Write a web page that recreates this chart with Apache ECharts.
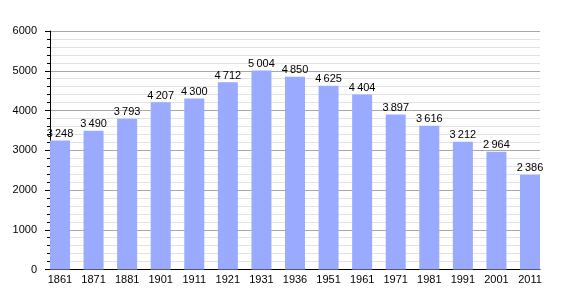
<!DOCTYPE html>
<html>
<head>
<meta charset="utf-8">
<script src="https://cdn.jsdelivr.net/npm/echarts@6/dist/echarts.min.js"></script>
<style>
html,body{margin:0;padding:0;background:#fff;}
#chart{width:570px;height:300px;}
</style>
</head>
<body>
<div id="chart"></div>
<script>
var years = ['1861','1871','1881','1901','1911','1921','1931','1936','1951','1961','1971','1981','1991','2001','2011'];
var population = [3248, 3490, 3793, 4207, 4300, 4712, 5004, 4850, 4625, 4404, 3897, 3616, 3212, 2964, 2386];
var yMin = 0, yMax = 6000, yStep = 1000;

function fmt(v){
  var s = String(v);
  return s.length > 3 ? s.slice(0, s.length-3) + '\u2009' + s.slice(-3) : s;
}

var chart = echarts.init(document.getElementById('chart'), null, {renderer:'canvas'});
var font = 'Liberation Sans, Arial, sans-serif';
chart.setOption({
  animation: false,
  backgroundColor: '#ffffff',
  grid: [
    {left: 50, right: 30, top: 31, bottom: 30.5},
    {left: 43.2, width: 503.6, top: 31, bottom: 30.5}
  ],
  xAxis: [
    {gridIndex: 0, type: 'category', data: years, boundaryGap: true,
     axisLine: {show: true, lineStyle: {color: '#000', width: 1}},
     axisTick: {show: false}, axisLabel: {show: false}, splitLine: {show: false}},
    {gridIndex: 1, type: 'category', data: years,
     axisLine: {show: false}, axisTick: {show: false},
     axisLabel: {show: true, color: '#000', fontSize: 11, fontFamily: font, margin: 5, interval: 0}}
  ],
  yAxis: [
    {gridIndex: 0, type: 'value', min: yMin, max: yMax, interval: yStep,
     axisLine: {show: true, lineStyle: {color: '#000', width: 1}},
     axisTick: {show: true, inside: false, length: 5, lineStyle: {color: '#000'}},
     minorTick: {show: true, splitNumber: 5, length: 3, lineStyle: {color: '#000'}},
     axisLabel: {color: '#000', fontSize: 11, fontFamily: font, margin: 13,
       formatter: function(v){ return String(v); }},
     splitLine: {show: true, lineStyle: {color: '#a8a8a8', width: 1}},
     minorSplitLine: {show: true, lineStyle: {color: '#e2e2e2', width: 1}}},
    {gridIndex: 1, type: 'value', min: yMin, max: yMax, interval: yStep, show: false,
     splitLine: {show: false}}
  ],
  series: [{
    type: 'bar',
    xAxisIndex: 1, yAxisIndex: 1,
    data: population,
    barWidth: 20,
    itemStyle: {color: '#99aaff'},
    label: {show: true, position: 'top', distance: 1, color: '#000', fontSize: 11, fontFamily: font,
      formatter: function(p){ return fmt(p.value); }}
  }]
});
</script>
</body>
</html>
